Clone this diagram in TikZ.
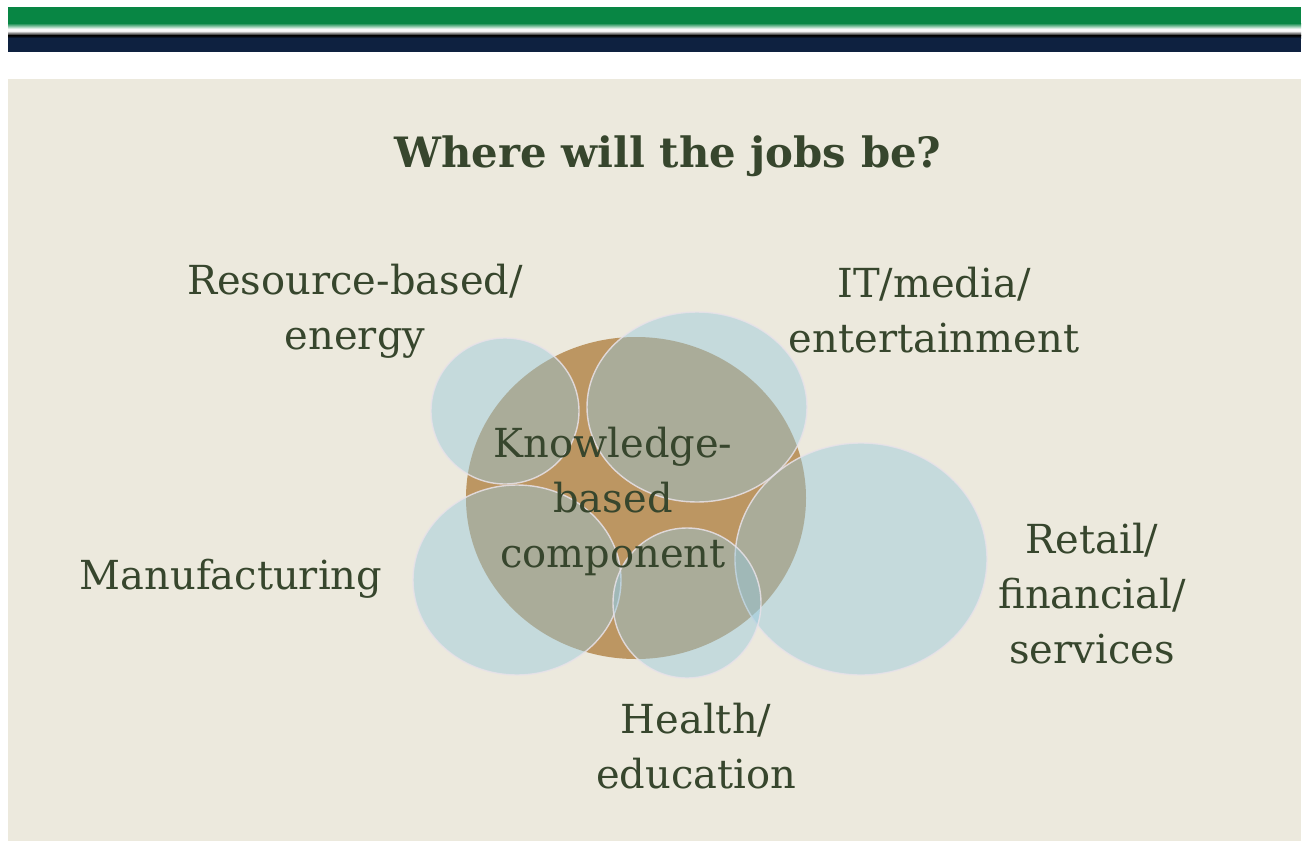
\documentclass[tikz,border=0pt]{standalone}
\usepackage{fontspec}
\setmainfont{DejaVu Serif}
\definecolor{bandgreen}{RGB}{8,134,68}
\definecolor{bandnavy}{RGB}{14,33,64}
\definecolor{slidebg}{RGB}{236,233,221}
\definecolor{knowbrown}{RGB}{188,150,98}
\definecolor{bubblecol}{RGB}{150,200,220}
\definecolor{rim}{RGB}{232,226,232}
\definecolor{ink}{RGB}{55,70,45}
\begin{document}
\begin{tikzpicture}[x=1pt,y=-1pt,
  bubble/.style={fill=bubblecol, fill opacity=0.45, draw=rim, draw opacity=0.85, line width=1.4pt},
  lbl/.style={text=ink, font=\fontsize{40}{55}\selectfont, align=center, inner sep=0pt, anchor=base},
  ttl/.style={text=ink, font=\fontsize{41.8}{48}\selectfont\bfseries, inner sep=0pt, anchor=base}]
\useasboundingbox (0,0) rectangle (1310,841);
\fill[white] (0,0) rectangle (1310,841);
% header band
\fill[bandgreen] (8,7) rectangle (1301,23);
\shade[top color=bandgreen, bottom color=white] (8,23) rectangle (1301,29);
\fill[white!95!gray] (8,29) rectangle (1301,31);
\shade[top color=white!90!gray, bottom color=black] (8,31) rectangle (1301,35.5);
\shade[top color=black, bottom color=bandnavy] (8,35.5) rectangle (1301,38);
\fill[bandnavy] (8,38) rectangle (1301,52);
% slide
\fill[slidebg] (8,79) rectangle (1301,841);
% title
\node[ttl] (title) at (668,167) {Where will the jobs be?};
% central knowledge circle
\fill[knowbrown] (636,498) ellipse [x radius=170, y radius=161];
% sector bubbles
\path[bubble] (505,411) ellipse [x radius=74, y radius=73];
\path[bubble] (697,407) ellipse [x radius=110, y radius=95];
\path[bubble] (517,580) ellipse [x radius=104, y radius=95];
\path[bubble] (861,559) ellipse [x radius=126, y radius=116];
\path[bubble] (687,603) ellipse [x radius=74, y radius=75];
% labels (base anchor = baseline of the last line)
\node[lbl] (know) at (613,567) {Knowledge-\\based\\component};
\node[lbl] (res) at (355,349) {Resource-based/\\energy};
\node[lbl] (it) at (934,352) {IT/media/\\entertainment};
\node[lbl] (man) at (231,589) {Manufacturing};
\node[lbl] (ret) at (1092,663) {Retail/\\financial/\\services};
\node[lbl] (hea) at (696,788) {Health/\\education};
\end{tikzpicture}
\end{document}
